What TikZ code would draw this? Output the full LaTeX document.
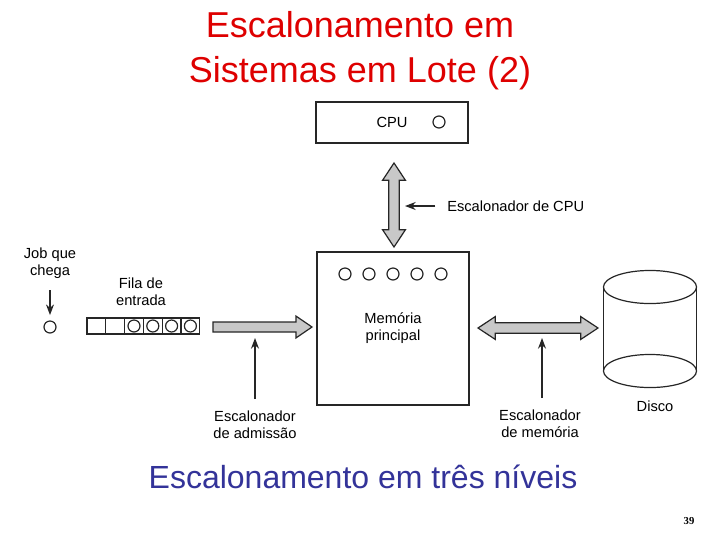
\documentclass[tikz,border=0pt]{standalone}
\usepackage{fontspec}
\setmainfont{Liberation Sans}
\newfontfamily\numfont{Liberation Serif}
\usetikzlibrary{calc,arrows.meta}
\definecolor{titlered}{RGB}{222,0,0}
\definecolor{subblue}{RGB}{51,51,153}
\definecolor{fatgray}{RGB}{200,200,200}
\begin{document}
\begin{tikzpicture}[x=0.75pt,y=-0.75pt,
  line/.style={draw=black!85,line width=0.9pt},
  box/.style={line,rectangle,inner sep=0pt,minimum width=114pt},
  slot/.style={line,rectangle,inner sep=0pt,minimum width=14.1pt,minimum height=12pt},
  job/.style={line,circle,inner sep=0pt,minimum size=9pt},
  lbl/.style={align=center,inner sep=0.75pt,font=\fontsize{11}{12.75}\selectfont},
  thin/.style={line,-{Stealth[length=8pt,width=6pt]}},
  fatone/.style={line,fill=fatgray,line join=miter,to path={let \p2=($(\tikztotarget)!12pt!(\tikztostart)$) in
    -- ($(\tikztostart)!3.75pt!90:(\tikztotarget)$) -- ($(\p2)!3.75pt!-90:(\tikztostart)$)
    -- ($(\p2)!8.2pt!-90:(\tikztostart)$) -- (\tikztotarget) -- ($(\p2)!8.2pt!90:(\tikztostart)$)
    -- ($(\p2)!3.75pt!90:(\tikztostart)$) -- ($(\tikztostart)!3.75pt!-90:(\tikztotarget)$) -- cycle}},
  fatdbl/.style={line,fill=fatgray,line join=miter,to path={let \p1=($(\tikztostart)!13pt!(\tikztotarget)$), \p2=($(\tikztotarget)!13pt!(\tikztostart)$) in
    -- ($(\p1)!8.6pt!90:(\tikztotarget)$) -- ($(\p1)!3.9pt!90:(\tikztotarget)$)
    -- ($(\p2)!3.9pt!-90:(\tikztostart)$) -- ($(\p2)!8.6pt!-90:(\tikztostart)$) -- (\tikztotarget)
    -- ($(\p2)!8.6pt!90:(\tikztostart)$) -- ($(\p2)!3.9pt!90:(\tikztostart)$)
    -- ($(\p1)!3.9pt!-90:(\tikztotarget)$) -- ($(\p1)!8.6pt!-90:(\tikztotarget)$) -- cycle}}]
\useasboundingbox (0,0) rectangle (720,540);

% Title
\node[align=center,text=titlered,font=\fontsize{27}{33.75}\selectfont] (title) at (360,51) {Escalonamento em\\Sistemas em Lote (2)};

%Shape: CPU box
\node[box,minimum height=30.75pt] (cpu) at (392,122.5) {\fontsize{11}{12.75}\selectfont CPU};
\node[job] (cpuj) at (439,122) {};

%Shape: main memory
\node[box,minimum height=114.75pt,lbl] (mem) at (393,328.5) {Memória\\principal};
\foreach \i in {0,...,4}
  \node[job] (m\i) at (345+\i*24,274) {};

%Shape: input queue
\foreach \i in {0,...,5}
  \node[slot] (q\i) at (96.4+\i*18.8,326) {};
\foreach \i in {2,...,5}
  \node[job] (qj\i) at (q\i) {};
\node[job] (newjob) at (50,327) {};

%Shape: disk
\draw[line] (603.5,287) -- (603.5,371);
\draw[line] (696.5,287) -- (696.5,371);
\draw[line] (650,287) ellipse [x radius=34.9pt, y radius=12.4pt];
\draw[line] (650,371) ellipse [x radius=34.9pt, y radius=12.4pt];

% Text Node
\node[lbl] (jobtxt) at (50,263) {Job que\\chega};
% Text Node
\node[lbl] (fila) at (141,292) {Fila de\\entrada};
% Text Node
\node[lbl,anchor=west] (cpusch) at (446,206) {Escalonador de CPU};
% Text Node
\node[lbl] (adm) at (255,425) {Escalonador\\de admissão};
% Text Node
\node[lbl] (memsch) at (540,424) {Escalonador\\de memória};
% Text Node
\node[lbl] (disco) at (655,406) {Disco};

%Fat arrows
\coordinate (cpua) at (394,163);
\coordinate (mema) at (394,247);
\coordinate (qa) at (213,327);
\coordinate (memw) at (312,327);
\coordinate (meme) at (478,328);
\coordinate (diska) at (598,328);
\draw[fatdbl] (cpua) to (mema);
\draw[fatone] (qa) to (memw);
\draw[fatdbl] (meme) to (diska);

%Straight Lines
\coordinate (cpuh) at (405,206);
\coordinate (admh) at (255,338);
\coordinate (memh) at (542,338);
\draw[thin,shorten <=8pt] (cpusch.west) -- (cpuh);
\draw[thin,shorten <=8pt,shorten >=4pt] (jobtxt.south) -- (newjob.north);
\draw[thin,shorten <=8pt] (adm.north) -- (admh);
\draw[thin,shorten <=8pt] (memsch.north -| memh) -- (memh);

% Caption
\node[text=subblue,font=\fontsize{24}{28}\selectfont] (caption) at (363,477) {Escalonamento em três níveis};
\node[font=\numfont\bfseries\fontsize{8}{9}\selectfont] (page) at (689,521) {39};
\end{tikzpicture}
\end{document}
